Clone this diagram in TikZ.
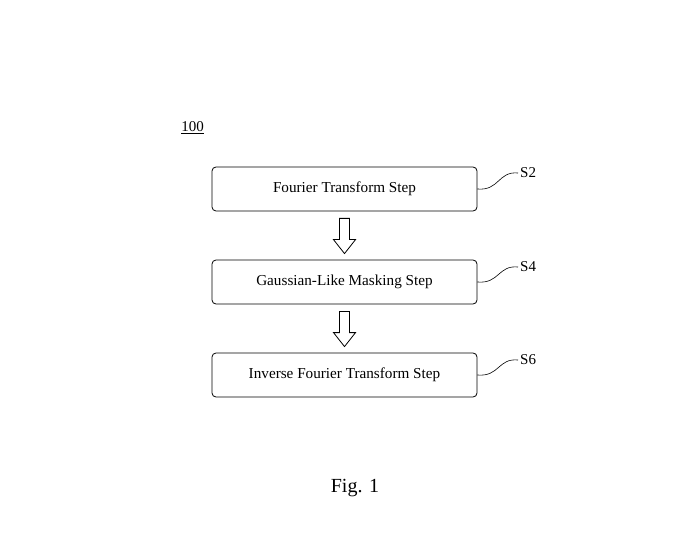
\documentclass[tikz,border=0pt]{standalone}
\usepackage{fontspec}
\setmainfont{Liberation Serif}
\usetikzlibrary{calc}
\begin{document}
\begin{tikzpicture}[x=1pt,y=-1pt,
  stepbox/.style={draw, rounded corners=4pt, line width=0.8pt, minimum width=265pt, minimum height=44pt, font=\fontsize{15.2}{17}\selectfont, inner sep=0pt},
  lead/.style={line width=0.6pt},
  blockarrow/.style={draw, line width=0.8pt, fill=white},
  tag/.style={font=\fontsize{15}{17}\selectfont, anchor=west, inner sep=0pt}]
\useasboundingbox (0,0) rectangle (690,553);
\node[stepbox] (b1) at (344.5,189) {Fourier Transform Step};
\node[stepbox] (b2) at (344.5,282) {Gaussian-Like Masking Step};
\node[stepbox] (b3) at (344.5,375) {Inverse Fourier Transform Step};
\node[tag] (s2) at (520,173) {S2};
\node[tag] (s4) at (520,267) {S4};
\node[tag] (s6) at (520,360) {S6};
\foreach \b/\s in {b1/s2,b2/s4,b3/s6}{
  \draw[lead] (\b.east) .. controls ($(\b.east)+(22,2)$) and ($(\s.west)+(-22,-2)$) .. ($(\s.west)+(-2,0)$);
}
\foreach \a/\b in {b1/b2,b2/b3}{
  \coordinate (t) at ($(\a.south)+(0,7)$);
  \coordinate (h) at ($(\b.north)+(0,-6)$);
  \draw[blockarrow] ($(t)+(-5,0)$) -- ($(t)+(5,0)$) -- ($(h)+(5,-14)$) -- ($(h)+(11,-14)$) -- (h) -- ($(h)+(-11,-14)$) -- ($(h)+(-5,-14)$) -- cycle;
}
\node[font=\fontsize{15}{17}\selectfont, inner sep=1pt] (n100) at (192.5,128) {\underline{100}};
\node[font=\fontsize{20}{24}\selectfont] (fig) at (355,488) {Fig. 1};
\end{tikzpicture}
\end{document}
